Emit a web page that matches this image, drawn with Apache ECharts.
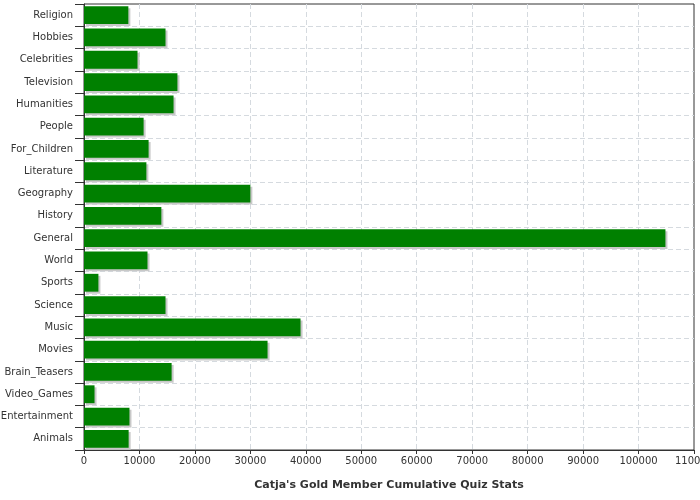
<!DOCTYPE html>
<html><head><meta charset="utf-8">
<script src="https://cdn.jsdelivr.net/npm/echarts@6/dist/echarts.min.js"></script>
<style>html,body{margin:0;padding:0;background:#fff}#c{width:700px;height:500px}</style>
</head><body><div id="c"></div>
<script>
const categories = ["Religion","Hobbies","Celebrities","Television","Humanities","People","For_Children","Literature","Geography","History","General","World","Sports","Science","Music","Movies","Brain_Teasers","Video_Games","Entertainment","Animals"];
const values = [8000,14700,9650,16850,16150,10750,11650,11250,30000,13950,104850,11450,2600,14700,39050,33100,15800,1900,8200,8050];
const xTitle = "Catja's Gold Member Cumulative Quiz Stats";
const xMin = 0, xMax = 110000, xStep = 10000;

const chart = echarts.init(document.getElementById('c'), null, {renderer:'canvas'});
const font = 'DejaVu Sans';
chart.setOption({
  animation:false,
  backgroundColor:'#fff',
  grid:{left:84,right:6,top:4,bottom:50,containLabel:false,outerBoundsMode:'none',show:true,borderColor:'#333',borderWidth:1,backgroundColor:'transparent'},
  xAxis:{
    type:'value', min:xMin, max:xMax, interval:xStep,
    name:xTitle, nameLocation:'middle', nameGap:30,
    nameTextStyle:{fontFamily:font,fontSize:11,fontWeight:'bold',color:'#333'},
    axisLine:{show:true,lineStyle:{color:'#333'}},
    axisTick:{show:true,length:4,lineStyle:{color:'#333'}},
    axisLabel:{fontFamily:font,fontSize:10,color:'#333',margin:6,formatter:v=>String(v),hideOverlap:false,showMaxLabel:true},
    splitLine:{show:true,showMinLine:false,showMaxLine:false,lineStyle:{color:'#d5dadf',type:[5,3]}}
  },
  yAxis:{
    type:'category', data:categories, inverse:true,
    axisLine:{show:true,lineStyle:{color:'#333'}},
    axisTick:{show:true,length:9,lineStyle:{color:'#333'}},
    axisLabel:{fontFamily:font,fontSize:10,color:'#333',margin:11},
    splitLine:{show:true,showMinLine:false,showMaxLine:false,lineStyle:{color:'#d5dadf',type:[5,3]}}
  },
  series:[{
    type:'bar', data:values, barCategoryGap:'20%',
    itemStyle:{color:'#008000',shadowColor:'#c8c8c8',shadowOffsetX:2,shadowOffsetY:2,shadowBlur:0}
  }]
});
</script></body></html>
